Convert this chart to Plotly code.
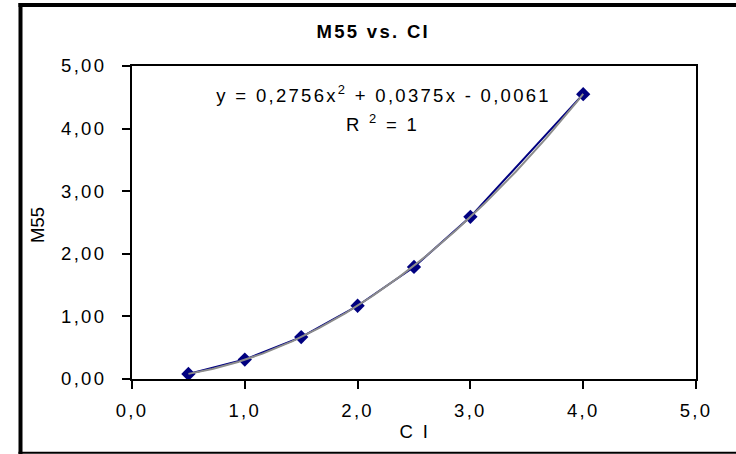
import numpy as np
import plotly.graph_objects as go

# Measured data
ci = [0.5, 1.0, 1.5, 2.0, 2.5, 3.0, 4.0]
m55 = [0.08, 0.31, 0.67, 1.17, 1.79, 2.59, 4.55]

# Polynomial trendline coefficients (as stated on the chart)
coef_a, coef_b, coef_c = 0.2756, 0.0375, -0.0061
r_squared = 1

x_ticks = [0, 1, 2, 3, 4, 5]
x_ticklabels = ["0,0", "1,0", "2,0", "3,0", "4,0", "5,0"]
y_ticks = [0, 1, 2, 3, 4, 5]
y_ticklabels = ["0,00", "1,00", "2,00", "3,00", "4,00", "5,00"]

FONT = "Liberation Sans, Arial, sans-serif"
FS = 18.5

W, H = 736, 454
L, R, T, B = 132, 40, 66, 75
pw, ph = W - L - R, H - T - B


def px(xp):
    return (xp - L) / pw


def py(yp):
    return (H - B - yp) / ph


xt = np.linspace(min(ci), max(ci), 200)
yt = coef_a * xt ** 2 + coef_b * xt + coef_c

fig = go.Figure()
fig.add_trace(go.Scatter(
    x=ci, y=m55, mode="lines+markers",
    line=dict(color="#000080", width=2),
    marker=dict(symbol="diamond", size=11, color="#000080"),
    showlegend=False,
))
fig.add_trace(go.Scatter(
    x=xt, y=yt, mode="lines",
    line=dict(color="#8c8c8c", width=2),
    showlegend=False,
))

eq_txt = "y = 0,2756x<sup>2</sup> + 0,0375x - 0,0061"
r2_txt = "R <sup>2</sup> = " + str(r_squared)


def label(x, y, text, size=FS, angle=0):
    return dict(x=px(x), y=py(y), xref="paper", yref="paper", text=text,
                xanchor="center", yanchor="middle", textangle=angle,
                showarrow=False, font=dict(family=FONT, size=size, color="black"))


annotations = [
    label(373, 31, "<b>M55 vs. CI</b>"),
    label(383, 94, eq_txt),
    label(382, 123, r2_txt),
    label(415, 431, "C I"),
    label(37, 225, "M55", angle=-90),
]

shapes = [
    dict(type="line", xref="paper", yref="paper", x0=px(20.5), x1=px(20.5), y0=py(454), y1=py(3),
         line=dict(color="black", width=4)),
    dict(type="line", xref="paper", yref="paper", x0=px(18.5), x1=px(740), y0=py(5), y1=py(5),
         line=dict(color="black", width=4)),
    dict(type="line", xref="paper", yref="paper", x0=px(18.5), x1=px(740), y0=py(452.8), y1=py(452.8),
         line=dict(color="black", width=2)),
]

fig.update_layout(
    width=W, height=H,
    margin=dict(l=L, r=R, t=T, b=B),
    paper_bgcolor="white", plot_bgcolor="white",
    font=dict(family=FONT, size=FS, color="black"),
    annotations=annotations,
    shapes=shapes,
)
fig.update_xaxes(
    range=[0, 5], tickvals=x_ticks, ticktext=x_ticklabels,
    showgrid=False, zeroline=False, showline=True, mirror=True,
    linecolor="black", linewidth=2, ticks="outside", ticklen=8, tickwidth=2,
    tickcolor="black", ticklabelstandoff=6,
)
fig.update_yaxes(
    range=[0, 5], tickvals=y_ticks, ticktext=y_ticklabels,
    showgrid=False, zeroline=False, showline=True, mirror=True,
    linecolor="black", linewidth=2, ticks="outside", ticklen=8, tickwidth=2,
    tickcolor="black", ticklabelstandoff=12,
)

# Wide, Excel-like tracking on the labels (the rotated axis title keeps normal tracking)
tracking = """
var gd = document.getElementById('{plot_id}');
gd.querySelectorAll('.xtick text, .ytick text, .annotation-text').forEach(function (t) {
    if (t.textContent !== 'M55') { t.style.letterSpacing = '2.3px'; }
});
"""

fig.write_html("out.html", post_script=tracking)
